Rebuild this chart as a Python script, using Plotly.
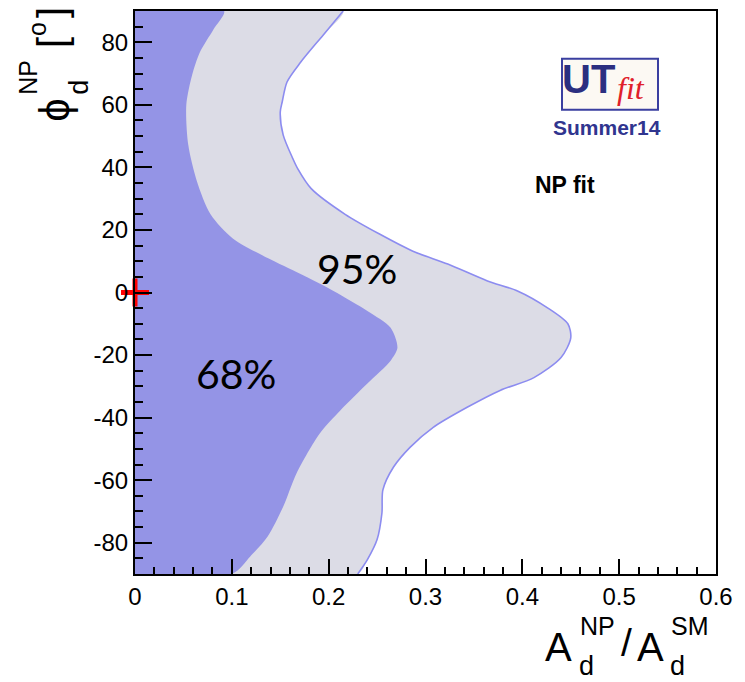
import plotly.graph_objects as go

# ---------------- data ----------------
# 95% probability region: right-hand boundary A_d^NP/A_d^SM vs phi_d^NP (deg)
phi95 = [-90, -85.4, -79.0, -70.5, -63.1, -55.8, -49.5, -43.1, -36.7, -31.3, -27.2, -20.8,
         -14.5, -10.0, -4.9, 0.5, 3.7, 9.1, 13.2, 18.6, 25.0, 33.2, 39.6, 42.8, 50.4, 57.7,
         60.9, 67.3, 73.6, 82.2, 90]
a95 = [0.230, 0.240, 0.250, 0.255, 0.256, 0.267, 0.284, 0.308, 0.343, 0.377, 0.412, 0.440,
       0.450, 0.447, 0.426, 0.395, 0.364, 0.323, 0.287, 0.253, 0.217, 0.182, 0.168, 0.163,
       0.153, 0.150, 0.152, 0.157, 0.171, 0.194, 0.215]

# 68% probability region boundary
phi68 = [-90, -84.4, -78.0, -68.5, -57.7, -45.0, -37.7, -29.1, -21.8, -17.7, -11.3, -5.9,
         0.5, 5.9, 11.0, 17.3, 25.0, 35.5, 47.2, 60.0, 69.5, 76.8, 84.1, 90]
a68 = [0.100, 0.119, 0.137, 0.153, 0.167, 0.191, 0.212, 0.240, 0.264, 0.271, 0.264, 0.240,
       0.205, 0.171, 0.137, 0.101, 0.078, 0.064, 0.055, 0.053, 0.059, 0.067, 0.081, 0.092]

# Standard Model point
sm_a = [0.0]
sm_phi = [0.0]

x_tickvals = [0, 0.1, 0.2, 0.3, 0.4, 0.5, 0.6]
x_ticktext = ["0", "0.1", "0.2", "0.3", "0.4", "0.5", "0.6"]
y_tickvals = [-80, -60, -40, -20, 0, 20, 40, 60, 80]
y_ticktext = ["-80", "-60", "-40", "-20", "0", "20", "40", "60", "80"]

# ---------------- layout helpers ----------------
OFF = 8                      # page body margin
W, H = 745 - OFF, 682 - OFF  # figure size
PL, PR, PT, PB = 135, 716, 9, 574   # plot area in window pixels


def px(x):
    return (x - PL) / (PR - PL)


def py(y):
    return (PB - y) / (PB - PT)


C95 = "#dcdce6"
C68 = "#9494e6"
CLINE = "#8c8cf0"

fig = go.Figure()

fig.add_trace(go.Scatter(
    x=[0] + a95 + [0], y=[phi95[0]] + phi95 + [phi95[-1]],
    fill="toself", fillcolor=C95, mode="lines", line=dict(width=0, shape="spline", smoothing=0.8),
    hoverinfo="skip", showlegend=False))
fig.add_trace(go.Scatter(
    x=a95, y=phi95, mode="lines", line=dict(color=CLINE, width=1.6, shape="spline", smoothing=0.8),
    hoverinfo="skip", showlegend=False))
fig.add_trace(go.Scatter(
    x=[0] + a68 + [0], y=[phi68[0]] + phi68 + [phi68[-1]],
    fill="toself", fillcolor=C68, mode="lines", line=dict(width=0, shape="spline", smoothing=0.8),
    hoverinfo="skip", showlegend=False))
fig.add_trace(go.Scatter(
    x=sm_a, y=sm_phi, mode="markers", cliponaxis=False,
    marker=dict(symbol="cross-thin", size=20, line=dict(color="#ff0000", width=5)),
    hoverinfo="skip", showlegend=False))

tickfont = dict(family="Liberation Sans, Arial, sans-serif", size=24, color="black")

fig.update_xaxes(
    range=[0, 0.6], tickvals=x_tickvals, ticktext=x_ticktext,
    ticks="inside", ticklen=15, tickwidth=1.5, tickcolor="black",
    minor=dict(ticks="inside", dtick=0.02, ticklen=7, tickwidth=1.5, tickcolor="black"),
    showline=True, linecolor="black", linewidth=2, mirror=True,
    showgrid=False, zeroline=False, tickfont=tickfont, layer="above traces")
fig.update_yaxes(
    range=[-90, 90], tickvals=y_tickvals, ticktext=y_ticktext,
    ticks="inside", ticklen=17, tickwidth=1.5, tickcolor="black",
    minor=dict(ticks="inside", dtick=5, ticklen=8, tickwidth=1.5, tickcolor="black"),
    showline=True, linecolor="black", linewidth=2, mirror=True,
    showgrid=False, zeroline=False, tickfont=tickfont, layer="above traces")

ann = []


def text(t, x, y, size, angle=0, family="Liberation Sans, Arial, sans-serif", color="black"):
    ann.append(dict(text=t, x=px(x), y=py(y), xref="paper", yref="paper",
                    xanchor="center", yanchor="middle", showarrow=False,
                    textangle=angle, font=dict(family=family, size=size, color=color)))


# X-axis title  A_d^NP / A_d^SM
text("A", 558, 647, 40)
text("NP", 597, 626, 25)
text("d", 586, 666, 27)
text("/", 626, 643, 39)
text("A", 650, 647, 40)
text("SM", 690, 626, 25)
text("d", 677, 666, 27)

# Y-axis title  phi_d^NP [o]
text("\u03d5", 55, 108, 42, angle=-90)
text("NP", 28, 76, 25, angle=-90)
text("d", 79, 86, 27, angle=-90)
text("[", 52, 41, 40, angle=-90)
text("o", 37, 27, 25, angle=-90)
text("]", 52, 11, 40, angle=-90)

# contour labels
text("95%", 357, 267, 41, family="Lato, Open Sans, sans-serif")
text("68%", 236, 373, 41, family="Lato, Open Sans, sans-serif")

# NP fit
text("<b>NP fit</b>", 565, 184, 23)

# logo
text("<b>UT</b>", 588, 77, 40, color="#2b2f80")
text("<i>fit</i>", 631, 86, 32, family="Liberation Serif, Times New Roman, serif", color="#e0202a")
text("<b>Summer14</b>", 607, 126, 21, color="#30358f")

shapes = [dict(type="rect", xref="paper", yref="paper",
               x0=px(562), x1=px(658), y0=py(108), y1=py(57),
               line=dict(color="#3a3fa0", width=2), fillcolor="rgba(250,245,235,0.6)",
               layer="below")]

fig.update_layout(
    width=W, height=H,
    margin=dict(l=PL - OFF, r=(W + OFF) - PR, t=PT - OFF, b=(H + OFF) - PB),
    paper_bgcolor="white", plot_bgcolor="white",
    annotations=ann, shapes=shapes,
    showlegend=False)

fig.write_html("out.html")
